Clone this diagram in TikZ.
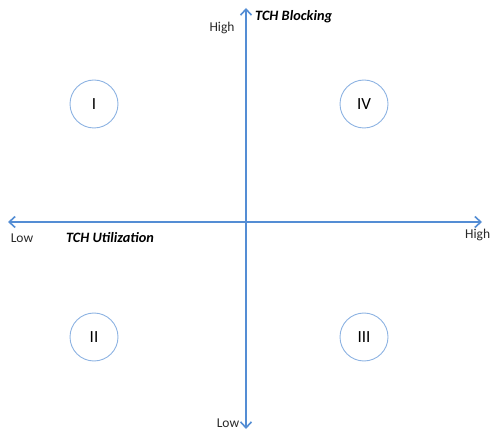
\documentclass[tikz,border=0pt]{standalone}
\usepackage{fontspec}
\setmainfont{Carlito}
\usetikzlibrary{arrows.meta}
\definecolor{axisblue}{RGB}{84,141,212}
\definecolor{ringblue}{RGB}{141,179,226}
\definecolor{labelgray}{RGB}{40,40,40}
\begin{document}
\begin{tikzpicture}[x=1pt,y=-1pt,
  axis/.style={draw=axisblue,line width=1.8pt,{Straight Barb[length=6pt,width=11pt,line width=1.6pt]}-{Straight Barb[length=6pt,width=11pt,line width=1.6pt]}},
  quadrant/.style={circle,draw=ringblue,line width=0.9pt,minimum size=48pt,inner sep=0pt,font=\fontsize{17}{20}\selectfont,text=black},
  ticklabel/.style={font=\fontsize{13.5}{16}\selectfont,text=labelgray,inner sep=0pt},
  axistitle/.style={font=\fontsize{14.3}{17}\selectfont\bfseries\itshape,text=black,inner sep=0pt}]
\useasboundingbox (0,0) rectangle (490,430);
% axis end points
\coordinate (top) at (246,8);
\coordinate (bottom) at (246,429);
\coordinate (left) at (8,222);
\coordinate (right) at (482,222);
\draw[axis] (bottom) -- (top);
\draw[axis] (left) -- (right);
% quadrant markers
\node[quadrant] (q1) at (94,104) {I};
\node[quadrant] (q4) at (364,104) {IV};
\node[quadrant] (q2) at (94,337) {II};
\node[quadrant] (q3) at (364,337) {III};
% axis labels
\node[ticklabel] (yhigh) at (222,28) {High};
\node[ticklabel] (ylow) at (228,423) {Low};
\node[ticklabel] (xlow) at (22,238) {Low};
\node[ticklabel,anchor=west] (xhigh) at (465,235) {High};
\node[axistitle,anchor=west] (ytitle) at (255,17) {TCH Blocking};
\node[axistitle] (xtitle) at (110,238) {TCH Utilization};
\end{tikzpicture}
\end{document}
